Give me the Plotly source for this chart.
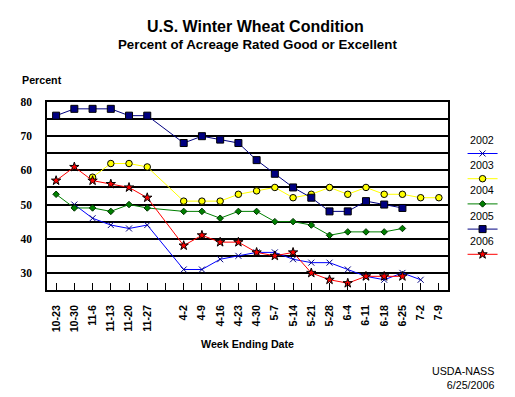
import plotly.graph_objects as go

weeks = ["10-23", "10-30", "11-6", "11-13", "11-20", "11-27", "",
         "4-2", "4-9", "4-16", "4-23", "4-30", "5-7", "5-14", "5-21",
         "5-28", "6-4", "6-11", "6-18", "6-25", "7-2", "7-9"]
y2002 = [None, 50, 46, 44, 43, 44, None, 31, 31, 34, 35, 36, 36, 34, 33, 33, 31, 29, 28, 30, 28, None]
y2003 = [None, None, 58, 62, 62, 61, None, 51, 51, 51, 53, 54, 55, 52, 53, 55, 53, 55, 53, 53, 52, 52]
y2004 = [53, 49, 49, 48, 50, 49, None, 48, 48, 46, 48, 48, 45, 45, 44, 41, 42, 42, 42, 43, None, None]
y2005 = [76, 78, 78, 78, 76, 76, None, 68, 70, 69, 68, 63, 59, 55, 52, 48, 48, 51, 50, 49, None, None]
y2006 = [57, 61, 57, 56, 55, 52, None, 38, 41, 39, 39, 36, 35, 36, 30, 28, 27, 29, 29, 29, None, None]
years = ["2002", "2003", "2004", "2005", "2006"]
ytick_vals = list(range(25, 81, 5))
ytick_text = ["", "30", "", "40", "", "50", "", "60", "", "70", "", "80"]

W, H = 515, 397
L, R, T, B = 35, 448, 94, 282

styles = [
    dict(line=dict(color="#0000FF", width=1),
         marker=dict(symbol="x-thin", size=6, color="#000080", line=dict(color="#000080", width=1))),
    dict(line=dict(color="#FFFF00", width=1),
         marker=dict(symbol="circle", size=6.5, color="#FFFF00", line=dict(color="#000000", width=1))),
    dict(line=dict(color="#008000", width=1),
         marker=dict(symbol="diamond", size=5, color="#008000", line=dict(color="#003000", width=1))),
    dict(line=dict(color="#000080", width=1),
         marker=dict(symbol="square", size=7, color="#000080", line=dict(color="#000000", width=1))),
    dict(line=dict(color="#FF0000", width=1),
         marker=dict(symbol="star", size=7, color="#FF0000", line=dict(color="#000000", width=1))),
]
series = [y2002, y2003, y2004, y2005, y2006]
xs = list(range(len(weeks)))

fig = go.Figure()
for name, vals, st in zip(years, series, styles):
    fig.add_trace(go.Scatter(x=xs, y=vals, mode="lines+markers", name=" ",
                             connectgaps=True, line=st["line"], marker=st["marker"],
                             legendgroup=name, hoverinfo="skip"))

def px_x(px):
    return (px - L) / (R - L)

def px_y(py):
    return (B - py) / (B - T)

sans = "Liberation Sans, Arial, sans-serif"
annotations = [
    dict(text="<b>U.S. Winter Wheat Condition</b>", x=px_x(250), y=px_y(18), font=dict(size=16, family=sans, color="black")),
    dict(text="<b>Percent of Acreage Rated Good or Excellent</b>", x=px_x(251.5), y=px_y(36.5), font=dict(size=13.3, family=sans, color="black")),
    dict(text="<b>Percent</b>", x=px_x(53), y=px_y(72), xanchor="right", font=dict(size=10.7, family=sans, color="black")),
    dict(text="<b>Week Ending Date</b>", x=px_x(192), y=px_y(335.5), xanchor="left", font=dict(size=10.7, family=sans, color="black")),
    dict(text="USDA-NASS<br>6/25/2006", x=px_x(497), y=px_y(369.5), xanchor="right", align="right", font=dict(size=10.7, family=sans, color="black")),
]
for i, yr in enumerate(years):
    annotations.append(dict(text=yr, x=px_x(483.5), y=px_y(132 + 25.2 * i),
                            font=dict(size=10.7, family=sans, color="black")))
for a in annotations:
    a.setdefault("xanchor", "center")
    a.update(xref="paper", yref="paper", yanchor="middle", showarrow=False)

fig.update_layout(
    width=W, height=H,
    margin=dict(l=L, r=W - R, t=T, b=H - B, pad=0),
    paper_bgcolor="white", plot_bgcolor="white",
    showlegend=True,
    legend=dict(x=px_x(463), y=px_y(131), xanchor="left", yanchor="top",
                font=dict(size=10.7, family=sans), tracegroupgap=6.2,
                bgcolor="rgba(0,0,0,0)", borderwidth=0, itemwidth=30),
    annotations=annotations,
    xaxis=dict(range=[-0.5, len(weeks) - 0.5], tickvals=xs, ticktext=weeks,
               tickangle=-90, ticks="inside", ticklen=7, tickcolor="black", tickwidth=1,
               tickfont=dict(size=10.7, family=sans, color="black", weight="bold"),
               ticklabelstandoff=9,
               showline=True, linecolor="black", linewidth=1.5, mirror=True,
               showgrid=False, zeroline=False, fixedrange=True),
    yaxis=dict(range=[25, 80], tickvals=ytick_vals, ticktext=ytick_text,
               ticks="", tickfont=dict(size=11.5, family="Liberation Serif, Times New Roman, serif",
                                        color="black", weight="bold"),
               ticklabelstandoff=11,
               showline=True, linecolor="black", linewidth=1.5, mirror=True,
               showgrid=True, gridcolor="black", gridwidth=1.5, zeroline=False, fixedrange=True),
)

fig.write_html("out.html")
